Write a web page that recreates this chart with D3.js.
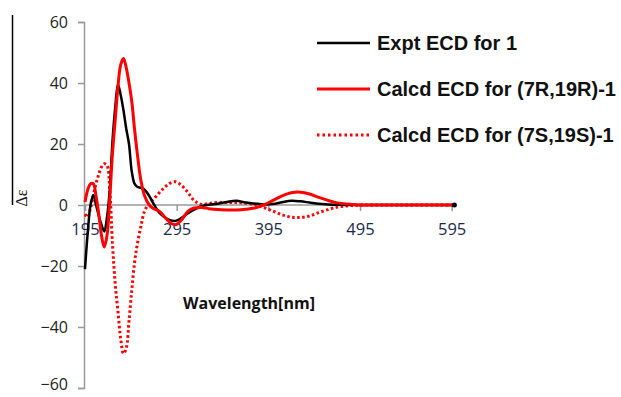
<!DOCTYPE html>
<html><head><meta charset="utf-8">
<script src="https://cdn.jsdelivr.net/npm/d3@7"></script>
<style>body{margin:0;background:#fff}svg{display:block}</style>
</head><body>
<svg id="c" width="621" height="397"></svg>
<script>
const wavelengths = [195,198,201,204,207,210,213,216,219,222,225,228,231,234,237,240,243,246,249,252,256,260,265,270,276,282,288,294,300,307,314,322,330,340,350,360,370,380,390,400,410,420,430,440,450,460,470,480,490,500,520,550,598];
const expt = [-21,-9,0,3.3,0,-3.5,-6.5,-8.7,-4,5,21,32,39.5,36,31,25,20,11,7,6,5.6,5,3,0.3,-2.5,-4,-5,-5.2,-4.3,-2.8,-1.5,-0.4,0.1,0.4,1,1.4,0.8,0.5,0.2,0.3,0.9,1.4,1.2,0.8,0.4,0.2,0.05,0,0,0,0,0,0];
const calcdRR = [1,5,7,7,3,-3,-10,-13.8,-10,2,17,28,39,46,48,45,40,34,25,17,8,3,0,-1.2,-2,-4,-5.8,-6.5,-5,-2.2,-1,-0.8,-1.2,-1.5,-1.6,-1.6,-1.4,-1,0,1.5,3,4,4.2,3.6,2.5,1.5,0.7,0.3,0.1,0,0,0,0];
const calcdSS = [-3,-4,-1,3,7,10,12.5,13.5,13,5,-13,-26,-35,-44,-48.7,-47,-38,-28,-19,-13,-7,-2,0.5,2,4,5.8,7.2,7.6,6.5,4.2,1.5,0.2,0.5,0.8,0.8,0.8,0.6,0.2,-0.8,-2,-3.2,-4,-4.1,-3.6,-2.5,-1.5,-0.7,-0.3,-0.1,0,0,0,0];
const xTicks = [195,295,395,495,595];
const yTicks = [-60,-40,-20,0,20,40,60];
const legendLabels = ["Expt ECD for 1","Calcd ECD for (7R,19R)-1","Calcd ECD for (7S,19S)-1"];

const svg = d3.select("#c");
const x = d3.scaleLinear().domain([195,598]).range([85,454.4]);
const y = d3.scaleLinear().domain([-60,60]).range([388,22]);
const font = "'Open Sans', sans-serif";

// left frame line
svg.append("line").attr("x1",12.5).attr("x2",12.5).attr("y1",15).attr("y2",205).attr("stroke","#000").attr("stroke-width",1.5);

// y axis
const ya = svg.append("g").attr("transform",`translate(${x(195)-1},0)`)
  .call(d3.axisLeft(y).tickValues(yTicks).tickSize(6).tickPadding(10).tickFormat(d3.format("d")));
ya.select(".domain").attr("stroke","#999").attr("stroke-width",1.5);
ya.selectAll(".tick line").attr("stroke","#999").attr("stroke-width",1.5);
ya.selectAll(".tick text").attr("font-family",font).attr("font-size",16).attr("fill","#222")
  .attr("dy",d=>d===-60?"0.1em":"0.32em");

// x axis at y=0
const xa = svg.append("g").attr("transform",`translate(0,${y(0)})`)
  .call(d3.axisBottom(x).tickValues(xTicks).tickSize(6).tickPadding(12).tickFormat(d3.format("d")));
xa.select(".domain").attr("stroke","#999").attr("stroke-width",1.5).attr("d",`M${x(195)-1},0H${x(598)}`);
xa.selectAll(".tick line").attr("stroke","#999").attr("stroke-width",1.5);
xa.selectAll(".tick text").attr("font-family",font).attr("font-size",16.5).attr("fill","#1c2a4a");

const line = d3.line().x((d,i)=>x(wavelengths[i])).y(d=>y(d)).curve(d3.curveCatmullRom.alpha(0.5));

svg.append("path").datum(calcdSS).attr("d",line).attr("fill","none").attr("stroke","#ff0000").attr("stroke-width",3).attr("stroke-dasharray","2.5,2.5");
svg.append("path").datum(expt).attr("d",line).attr("fill","none").attr("stroke","#000").attr("stroke-width",2.5);
svg.append("path").datum(calcdRR).attr("d",line).attr("fill","none").attr("stroke","#ff0000").attr("stroke-width",3);
svg.append("circle").attr("cx",x(wavelengths[wavelengths.length-1])).attr("cy",y(expt[expt.length-1])).attr("r",2.5).attr("fill","#000");

// axis titles
svg.append("text").attr("x",249).attr("y",309).attr("text-anchor","middle").attr("font-family",font).attr("font-weight","bold").attr("font-size",16).attr("fill","#111").text("Wavelength[nm]");
svg.append("text").attr("transform","translate(27,198) rotate(-90)").attr("text-anchor","middle").attr("font-family","'Liberation Serif', serif").attr("font-size",16).attr("fill","#111").text("Δε");

// legend
const styles = [{c:"#000",w:2.5,d:null},{c:"#ff0000",w:3,d:null},{c:"#ff0000",w:3,d:"2.5,3"}];
const legY = [43,89,135];
legendLabels.forEach((t,i)=>{
  const g = svg.append("g");
  g.append("line").attr("x1",317).attr("x2",370).attr("y1",legY[i]).attr("y2",legY[i]).attr("stroke",styles[i].c).attr("stroke-width",styles[i].w).attr("stroke-dasharray",styles[i].d);
  g.append("text").attr("x",377).attr("y",legY[i]+7).attr("font-family","'Liberation Sans', Arial, sans-serif").attr("font-weight","bold").attr("font-size",20).attr("fill","#111").text(t);
});
</script>
</body></html>
